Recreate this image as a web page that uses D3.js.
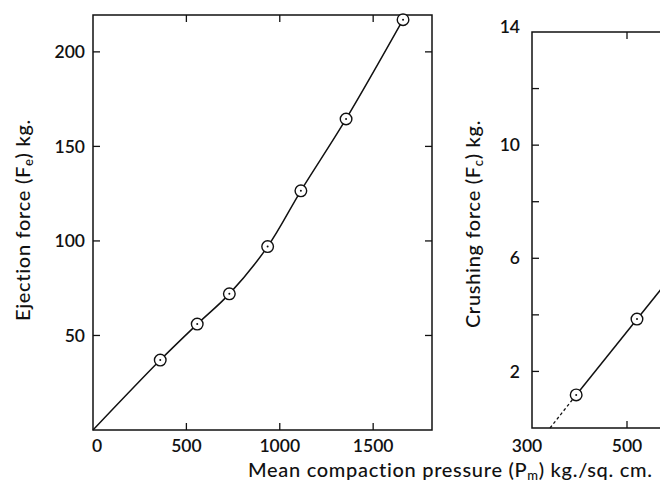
<!DOCTYPE html>
<html>
<head>
<meta charset="utf-8">
<script src="https://cdn.jsdelivr.net/npm/d3@7"></script>
<style>
  body { margin: 0; background: #fff; }
  svg text { font-family: Lato, "Open Sans", sans-serif; fill: #111; }
</style>
</head>
<body>
<div id="chart"></div>
<script>
// ejection force vs mean compaction pressure
const ejectPressure = [360, 558, 730, 935, 1113, 1355, 1660];
const ejectForce = [37, 56, 72, 97, 126.5, 164.5, 217];

// crushing force vs mean compaction pressure
const crushPressure = [393, 521];
const crushForce = [1.17, 3.85];
const crushDashed = [[338, 0], [393, 1.17]];
const crushSolidEnd = [600, 5.5];

const ejectYTicks = [50, 100, 150, 200];
const ejectXTicks = [0, 500, 1000, 1500];
const crushYTicks = [2, 4, 6, 8, 10, 12, 14];
const crushYLabels = [2, 6, 10, 14];
const crushXTicks = [300, 500];

const W = 660, H = 484;
const svg = d3.select("#chart").append("svg")
  .attr("width", W).attr("height", H);

const ink = "#111";
const tickLen = 7;
const tickFont = 17.5;
const titleFont = 20;

// ---- left panel ----
const x1 = d3.scaleLinear().domain([0, 1815]).range([93, 432]);
const y1 = d3.scaleLinear().domain([0, 219.5]).range([430, 15]);

const g1 = svg.append("g");
g1.append("rect")
  .attr("x", x1(0)).attr("y", y1(219.5))
  .attr("width", x1(1815) - x1(0)).attr("height", y1(0) - y1(219.5))
  .attr("fill", "none").attr("stroke", ink).attr("stroke-width", 1.5);

// inward ticks on all four sides
g1.selectAll(".yl").data(ejectYTicks).join("line")
  .attr("x1", x1(0)).attr("x2", x1(0) + tickLen)
  .attr("y1", d => y1(d)).attr("y2", d => y1(d));
g1.selectAll(".yr").data(ejectYTicks).join("line")
  .attr("x1", x1(1815)).attr("x2", x1(1815) - tickLen)
  .attr("y1", d => y1(d)).attr("y2", d => y1(d));
g1.selectAll(".xb").data(ejectXTicks.slice(1)).join("line")
  .attr("x1", d => x1(d)).attr("x2", d => x1(d))
  .attr("y1", y1(0)).attr("y2", y1(0) - tickLen);
g1.selectAll(".xt").data(ejectXTicks.slice(1)).join("line")
  .attr("x1", d => x1(d)).attr("x2", d => x1(d))
  .attr("y1", y1(219.5)).attr("y2", y1(219.5) + tickLen);
g1.selectAll("line").attr("stroke", ink).attr("stroke-width", 1.3);

g1.selectAll(".ylab").data(ejectYTicks).join("text")
  .attr("x", x1(0) - 8).attr("y", d => y1(d)).attr("dy", "0.35em")
  .attr("text-anchor", "end").attr("font-size", tickFont).attr("font-weight", 600)
  .text(d => d);
g1.selectAll(".xlab").data(ejectXTicks).join("text")
  .attr("x", d => x1(d) + (d === 0 ? 4 : 0)).attr("y", y1(0) + 22)
  .attr("text-anchor", "middle").attr("font-size", tickFont).attr("font-weight", 600)
  .text(d => d);

const ejectPts = ejectPressure.map((p, i) => [p, ejectForce[i]]);
g1.append("path")
  .datum([[0, 0], ...ejectPts])
  .attr("fill", "none").attr("stroke", ink).attr("stroke-width", 1.5)
  .attr("d", d3.line().x(d => x1(d[0])).y(d => y1(d[1])).curve(d3.curveCatmullRom));

function marker(g, pts, x, y) {
  const m = g.selectAll(".pt").data(pts).join("g")
    .attr("transform", d => `translate(${x(d[0])},${y(d[1])})`);
  m.append("circle").attr("r", 5.8).attr("fill", "#fff")
    .attr("stroke", ink).attr("stroke-width", 1.4);
  m.append("circle").attr("r", 1).attr("fill", ink);
}
marker(g1, ejectPts, x1, y1);

g1.append("text")
  .attr("transform", `translate(30,220) rotate(-90)`)
  .attr("text-anchor", "middle").attr("font-size", titleFont).attr("font-weight", 500)
  .attr("letter-spacing", 0.7)
  .html('Ejection force (F<tspan font-size="13" dy="3">e</tspan><tspan dy="-3">) kg.</tspan>');

// ---- right panel ----
const x2 = d3.scaleLinear().domain([300, 1100]).range([532, 912]);
const y2 = d3.scaleLinear().domain([0, 14]).range([428, 32]);

const g2 = svg.append("g");
g2.append("path")
  .attr("d", `M${x2(1100)},${y2(14)}H${x2(300)}V${y2(0)}H${x2(1100)}`)
  .attr("fill", "none").attr("stroke", ink).attr("stroke-width", 1.5);

g2.selectAll(".yl").data(crushYTicks.slice(0, -1)).join("line")
  .attr("x1", x2(300)).attr("x2", x2(300) + tickLen)
  .attr("y1", d => y2(d)).attr("y2", d => y2(d));
g2.selectAll(".xb").data(crushXTicks.slice(1)).join("line")
  .attr("x1", d => x2(d)).attr("x2", d => x2(d))
  .attr("y1", y2(0)).attr("y2", y2(0) - tickLen);
g2.selectAll(".xt").data(crushXTicks.slice(1)).join("line")
  .attr("x1", d => x2(d)).attr("x2", d => x2(d))
  .attr("y1", y2(14)).attr("y2", y2(14) + tickLen);
g2.selectAll("line").attr("stroke", ink).attr("stroke-width", 1.3);

g2.selectAll(".ylab").data(crushYLabels).join("text")
  .attr("x", x2(300) - 12).attr("y", d => y2(d) - (d === 14 ? 5 : 0)).attr("dy", "0.35em")
  .attr("text-anchor", "end").attr("font-size", tickFont).attr("font-weight", 600)
  .text(d => d);
g2.selectAll(".xlab").data(crushXTicks).join("text")
  .attr("x", d => x2(d) - (d === 300 ? 5 : 0)).attr("y", y2(0) + 24)
  .attr("text-anchor", "middle").attr("font-size", tickFont).attr("font-weight", 600)
  .text(d => d);

const crushPts = crushPressure.map((p, i) => [p, crushForce[i]]);
const ln2 = d3.line().x(d => x2(d[0])).y(d => y2(d[1]));
g2.append("path").datum(crushDashed)
  .attr("fill", "none").attr("stroke", ink).attr("stroke-width", 1.3)
  .attr("stroke-dasharray", "3,2.5").attr("d", ln2);
g2.append("path").datum([crushPts[0], crushSolidEnd])
  .attr("fill", "none").attr("stroke", ink).attr("stroke-width", 1.5).attr("d", ln2);
marker(g2, crushPts, x2, y2);

g2.append("text")
  .attr("transform", `translate(480,224) rotate(-90)`)
  .attr("text-anchor", "middle").attr("font-size", titleFont).attr("font-weight", 500)
  .attr("letter-spacing", 0.7)
  .html('Crushing force (F<tspan font-size="13" dy="3">c</tspan><tspan dy="-3">) kg.</tspan>');

// shared x title
svg.append("text")
  .attr("x", 248).attr("y", 477)
  .attr("font-size", titleFont).attr("font-weight", 500)
  .attr("letter-spacing", 0.7)
  .html('Mean compaction pressure (P<tspan font-size="13" dy="3">m</tspan><tspan dy="-3">) kg./sq. cm.</tspan>');
</script>
</body>
</html>
